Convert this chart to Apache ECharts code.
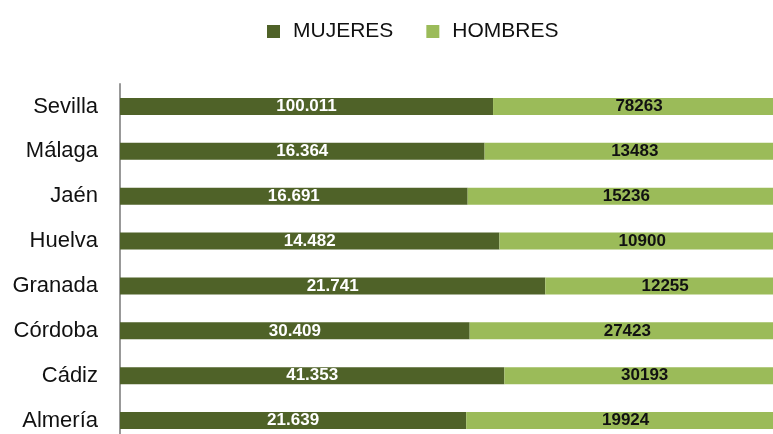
<!DOCTYPE html>
<html>
<head>
<meta charset="utf-8">
<script src="https://cdn.jsdelivr.net/npm/echarts@6/dist/echarts.min.js"></script>
<style>
  html, body { margin: 0; padding: 0; background: #fff; }
  #chart { width: 773px; height: 434px; }
</style>
</head>
<body>
<div id="chart"></div>
<script>
// provincias (de abajo hacia arriba)
const provincias = ["Almería", "Cádiz", "Córdoba", "Granada", "Huelva", "Jaén", "Málaga", "Sevilla"];
const mujeres = [21639, 41353, 30409, 21741, 14482, 16691, 16364, 100011];
const hombres = [19924, 30193, 27423, 12255, 10900, 15236, 13483, 78263];

// porcentaje sobre el total de cada provincia
const pct = (a, b) => a.map((v, i) => (v / (v + b[i])) * 100);
const mujeresPct = pct(mujeres, hombres);
const hombresPct = pct(hombres, mujeres);

// mujeres con punto de miles, hombres sin separador
const fmtMiles = (n) => String(n).replace(/\B(?=(\d{3})+(?!\d))/g, ".");

const font = "'Liberation Sans', Arial, sans-serif";

const chart = echarts.init(document.getElementById("chart"));
chart.setOption({
  animation: false,
  legend: {
    top: 16,
    left: 262,
    itemWidth: 13,
    itemHeight: 13,
    itemGap: 33,
    icon: "rect",
    textStyle: { fontFamily: font, fontSize: 21, color: "#111", padding: [0, 0, 0, 8] },
    data: ["MUJERES", "HOMBRES"],
  },
  // el eje llega más allá del borde derecho, como en el original
  grid: { left: 120, width: 665, top: 84, bottom: -9, containLabel: false, outerBoundsMode: "none" },
  xAxis: {
    type: "value",
    min: 0,
    max: 100,
    show: false,
  },
  yAxis: {
    type: "category",
    data: provincias,
    axisLine: { show: true, lineStyle: { color: "#999", width: 2 } },
    axisTick: { show: false },
    axisLabel: { fontFamily: font, fontSize: 22, color: "#111", margin: 22 },
  },
  series: [
    {
      name: "MUJERES",
      type: "bar",
      stack: "total",
      barWidth: 17,
      data: mujeresPct,
      itemStyle: { color: "#4f6228" },
      label: {
        show: true,
        position: "inside",
        color: "#fff",
        fontFamily: font,
        fontWeight: "bold",
        fontSize: 17,
        formatter: (p) => fmtMiles(mujeres[p.dataIndex]),
      },
    },
    {
      name: "HOMBRES",
      type: "bar",
      stack: "total",
      barWidth: 17,
      data: hombresPct,
      itemStyle: { color: "#9bbb59" },
      label: {
        show: true,
        position: "inside",
        color: "#111",
        fontFamily: font,
        fontWeight: "bold",
        fontSize: 17,
        formatter: (p) => String(hombres[p.dataIndex]),
      },
    },
  ],
});
</script>
</body>
</html>
